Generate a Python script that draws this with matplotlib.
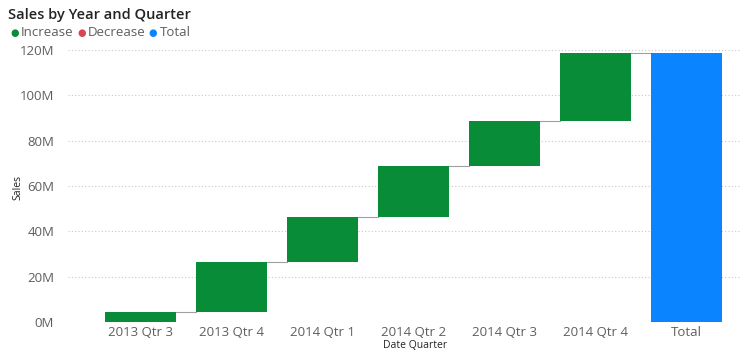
import matplotlib
matplotlib.use("Agg")
import matplotlib.pyplot as plt
from matplotlib.ticker import FuncFormatter

categories = ["2013 Qtr 3", "2013 Qtr 4", "2014 Qtr 1", "2014 Qtr 2", "2014 Qtr 3", "2014 Qtr 4"]
increments = [4.4e6, 22.1e6, 19.8e6, 22.5e6, 19.9e6, 29.8e6]
total_label = "Total"
yticks = [0, 20e6, 40e6, 60e6, 80e6, 100e6, 120e6]

plt.rcParams['font.family'] = ['Open Sans', 'DejaVu Sans']

c_inc = "#088C38"
c_dec = "#D64550"
c_tot = "#0A84FF"

fig = plt.figure(figsize=(7.41, 3.55), dpi=100)
ax = fig.add_axes([68/741, 1-322/355, 1-68/741, (322-50)/355])

width = 0.78
cum = 0.0
tops = []
for i, v in enumerate(increments):
    col = c_inc if v >= 0 else c_dec
    ax.bar(i, v, bottom=cum, width=width, color=col, zorder=3)
    cum += v
    tops.append(cum)
n = len(increments)
ax.bar(n, cum, width=width, color=c_tot, zorder=3)

# connectors
for i, t in enumerate(tops):
    ax.plot([i + width/2, i + 1 - width/2], [t, t], color="#A0A0A0", lw=0.8, zorder=2)

ax.set_xlim(-0.8, n + 0.6)
ax.set_ylim(0, 120e6)
ax.set_yticks(yticks)
ax.yaxis.set_major_formatter(FuncFormatter(lambda v, p: f"{int(round(v/1e6))}M"))
ax.set_xticks(range(n + 1))
ax.set_xticklabels(categories + [total_label])
ax.tick_params(axis='both', length=0, labelsize=9.5, colors="#605E5C", pad=3)
ax.tick_params(axis='y', pad=10)
ax.grid(axis='y', linestyle=(0, (1, 2)), color="#C8C8C8", lw=0.8, zorder=0)
for s in ax.spines.values():
    s.set_visible(False)

fig.text(18/741, 1-187/355, "Sales", rotation=90, ha='center', va='center', fontsize=7.5, color="#252423")
fig.text(415/741, 1-346/355, "Date Quarter", ha='center', va='center', fontsize=7.5, color="#252423", fontweight='medium')

fig.text(8/741, 1-15/355, "Sales by Year and Quarter", ha='left', va='center', fontsize=10.5, color="#252423", fontweight='semibold')

# legend
ly = 1 - 33/355
items = [("Increase", c_inc), ("Decrease", c_dec), ("Total", c_tot)]
dot_x = [14.5, 81.5, 153]
txt_x = [21, 88, 160]
for (lab, col), dx, tx in zip(items, dot_x, txt_x):
    fig.text(dx/741, ly, "\u25CF", ha='center', va='center', fontsize=7, color=col, family=['DejaVu Sans'])
    fig.text(tx/741, ly, lab, ha='left', va='center', fontsize=9.5, color="#605E5C")

fig.savefig("out.png", dpi=100)
